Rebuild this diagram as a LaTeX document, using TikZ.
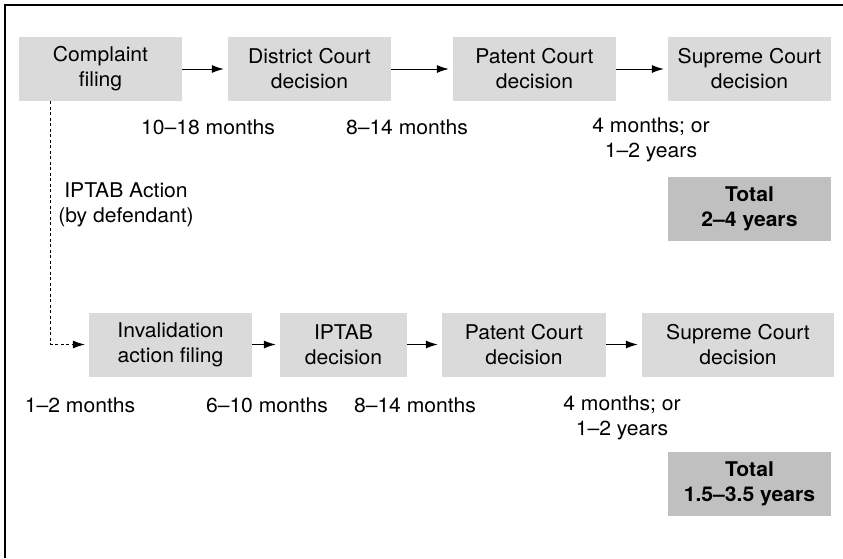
\documentclass[tikz,border=0pt]{standalone}
\usepackage{fontspec}
\setmainfont[FakeStretch=1.04]{TeX Gyre Heros}
\usetikzlibrary{arrows.meta}
\definecolor{stagegray}{RGB}{218,218,218}
\definecolor{totalgray}{RGB}{192,192,192}
\newcommand\diagfont{\fontsize{20.3}{25}\selectfont}

\begin{document}
\begin{tikzpicture}[x=1pt,y=-1pt,font=\diagfont,
    stage/.style={rectangle,fill=stagegray,align=center,minimum width=163pt,minimum height=64pt,inner sep=0pt},
    total/.style={stage,fill=totalgray,font=\diagfont\bfseries},
    lbl/.style={align=center,inner sep=0pt},
    flow/.style={-{Latex[length=12pt,width=8pt]},line width=1pt,shorten >=4pt},
    branch/.style={flow,line width=0.8pt,dash pattern=on 3pt off 2.5pt}]
    \useasboundingbox (0,0) rectangle (843,558);
    \draw [line width=1.5pt] (5,558) -- (5,5) -- (843,5);
    % lawsuit
    \node (cf) [stage] at (100.5,69) {Complaint\\filing};
    \node (dcd) [stage] at (309.5,69) {District Court\\decision};
    \node (pcd) [stage] at (534.5,69) {Patent Court\\decision};
    \node (scd) [stage] at (749.5,69) {Supreme Court\\decision};
    \node (tot) [total] at (749.5,208.5) {Total\\2--4 years};
    \draw [flow] (cf) -- (dcd);
    \draw [flow] (dcd) -- (pcd);
    \draw [flow] (pcd) -- (scd);
    \node (l1) [lbl] at (208,127) {10--18 months};
    \node (l2) [lbl] at (407,127) {8--14 months};
    \node (l3) [lbl] at (651,139.5) {4 months; or\\1--2 years};
    % invalidation
    \node (ipa) [lbl] at (126,204.5) {IPTAB Action\\(by defendant)};
    \node (iaf) [stage] at (170.5,344.5) {Invalidation\\action filing};
    \node (ipd) [stage,minimum width=127pt] at (343.5,344.5) {IPTAB\\decision};
    \node (pcdb) [stage,minimum width=164pt] at (524,344.5) {Patent Court\\decision};
    \node (scdb) [stage,minimum width=192pt] at (738,344.5) {Supreme Court\\decision};
    \node (totb) [total] at (749.5,484) {Total\\1.5--3.5 years};
    \draw [branch] ([xshift=32pt]cf.south west) |- (iaf);
    \draw [flow] (iaf) -- (ipd);
    \draw [flow] (ipd) -- (pcdb);
    \draw [flow] (pcdb) -- (scdb);
    \node (m1) [lbl] at (80,405) {1--2 months};
    \node (m2) [lbl] at (267,405) {6--10 months};
    \node (m3) [lbl] at (415,405) {8--14 months};
    \node (m4) [lbl] at (622,417.5) {4 months; or\\1--2 years};
\end{tikzpicture}
\end{document}
